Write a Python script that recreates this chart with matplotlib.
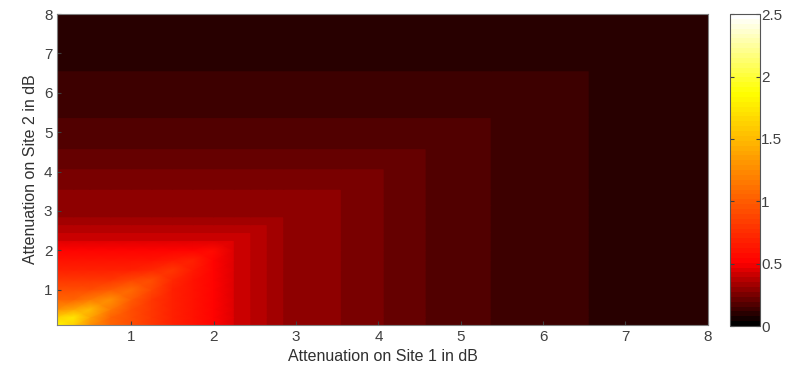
import numpy as np
import matplotlib
matplotlib.use('Agg')
import matplotlib.pyplot as plt
from matplotlib.colors import LinearSegmentedColormap

plt.rcParams['font.family'] = ['Liberation Sans', 'DejaVu Sans']

# smooth part near the origin (dB); values read along the axes,
# one node off the diagonal, and on the diagonal
smooth_att = [0.1, 0.3, 0.5, 0.75, 1.0, 1.25, 1.5, 1.75, 2.0, 2.25]
smooth_axis = [1.75, 1.48, 1.25, 1.05, 0.90, 0.79, 0.69, 0.60, 0.52, 0.44]
smooth_near = [1.78, 1.62, 1.38, 1.16, 0.99, 0.86, 0.74, 0.64, 0.54, 0.45]
smooth_diag = [1.80, 1.72, 1.50, 1.28, 1.08, 0.93, 0.80, 0.68, 0.57, 0.46]

# stepped part: value depends on max(att1, att2)
step_edges = [2.25, 2.45, 2.65, 2.85, 3.15, 3.55, 4.07, 4.58, 5.37, 6.56, 8.0]
step_vals = [0.405, 0.375, 0.345, 0.31, 0.28, 0.25, 0.208, 0.173, 0.133, 0.094]

x_ticks = [1, 2, 3, 4, 5, 6, 7, 8]
y_ticks = [1, 2, 3, 4, 5, 6, 7, 8]
cbar_ticks = [0, 0.5, 1, 1.5, 2, 2.5]
cbar_labels = ['0', '0.5', '1', '1.5', '2', '2.5']

# node list: smooth nodes, then every step block gets a start and end node
nodes = list(smooth_att)
prof = list(smooth_axis)
near = list(smooth_near)
diag = list(smooth_diag)
for k, v in enumerate(step_vals):
    nodes += [step_edges[k], step_edges[k + 1]]
    prof += [v, v]
    near += [v, v]
    diag += [v, v]
nodes = np.array(nodes)
n = len(nodes)

Z = np.zeros((n, n))
for i in range(n):
    for j in range(n):
        m = max(i, j)
        if i == j:
            Z[i, j] = diag[m]
        elif abs(i - j) == 1:
            Z[i, j] = near[m]
        else:
            Z[i, j] = prof[m]

X, Y = np.meshgrid(nodes, nodes)

# hot-like map as in the original colorbar (red saturates at 0.5, yellow ~1.9)
cmap = LinearSegmentedColormap('hot_like', {
    'red':   [(0, 0, 0), (0.2, 1, 1), (1, 1, 1)],
    'green': [(0, 0, 0), (0.2, 0, 0), (0.75, 1, 1), (1, 1, 1)],
    'blue':  [(0, 0, 0), (0.75, 0, 0), (1, 1, 1)],
}, N=64)

fig = plt.figure(figsize=(7.89, 3.71), dpi=100)
ax = fig.add_axes([0.0726, 0.124, 0.8244, 0.838])
cax = fig.add_axes([0.925, 0.121, 0.038, 0.841])

mesh = ax.pcolormesh(X, Y, Z, cmap=cmap, vmin=0, vmax=2.5, shading='gouraud')
ax.set_xlim(0.1, 8)
ax.set_ylim(0.1, 8)
ax.set_xticks(x_ticks)
ax.set_yticks(y_ticks)
ax.tick_params(direction='in', length=3, labelsize=11, colors='#404040')
for s in ax.spines.values():
    s.set_color('#808080')
    s.set_linewidth(0.8)
ax.set_xlabel('Attenuation on Site 1 in dB', fontsize=11.5, color='#303030', labelpad=4)
ax.set_ylabel('Attenuation on Site 2 in dB', fontsize=11.5, color='#303030', labelpad=4)

cb = fig.colorbar(mesh, cax=cax, ticks=cbar_ticks)
cb.ax.set_yticklabels(cbar_labels)
cb.ax.tick_params(direction='in', length=3, labelsize=11, colors='#404040', pad=1,
                  left=True, right=True)
cb.outline.set_edgecolor('#555555')
cb.outline.set_linewidth(0.8)

fig.savefig('out.png', dpi=100)
